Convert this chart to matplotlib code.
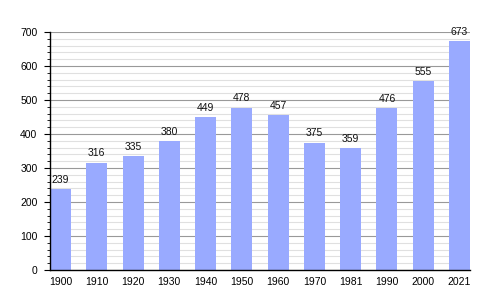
import matplotlib
matplotlib.use("Agg")
import matplotlib.pyplot as plt
import numpy as np

plt.rcParams["font.family"] = ["Liberation Sans", "DejaVu Sans"]

# Population by census year
years = ["1900", "1910", "1920", "1930", "1940", "1950", "1960", "1970", "1981", "1990", "2000", "2021"]
pop = [239, 316, 335, 380, 449, 478, 457, 375, 359, 476, 555, 673]

x = np.arange(len(years))
w = 0.58

fig = plt.figure(figsize=(5, 3), dpi=100)
ax = fig.add_axes([0.1, 0.1, 0.84, 0.793])

ax.set_axisbelow(True)
ax.bar(x, pop, width=w, color="#99aaff", zorder=2)

for xi, v in zip(x, pop):
    ax.annotate(str(v), (xi, v), xytext=(0, 3), textcoords="offset points",
                ha="center", va="bottom", fontsize=7.5, color="#111111", zorder=3)

ax.set_xlim(-w / 2, len(years) - 1 + w / 2)
ax.set_ylim(0, 700)
ax.set_yticks(range(0, 701, 100))
ax.set_yticks(range(0, 701, 20), minor=True)
ax.set_xticks(x)
ax.set_xticklabels(years)

ax.grid(axis="y", which="major", color="#999999", linewidth=0.8, zorder=0)
ax.grid(axis="y", which="minor", color="#e0e0e0", linewidth=0.8, zorder=0)

for s in ["top", "right"]:
    ax.spines[s].set_visible(False)
ax.spines["left"].set_linewidth(1)
ax.spines["bottom"].set_linewidth(1)

ax.tick_params(axis="y", which="major", length=4, labelsize=7.5, pad=5)
ax.tick_params(axis="y", which="minor", length=2)
ax.tick_params(axis="x", length=0, labelsize=7.5, pad=5)

fig.savefig("out.png", dpi=100)
